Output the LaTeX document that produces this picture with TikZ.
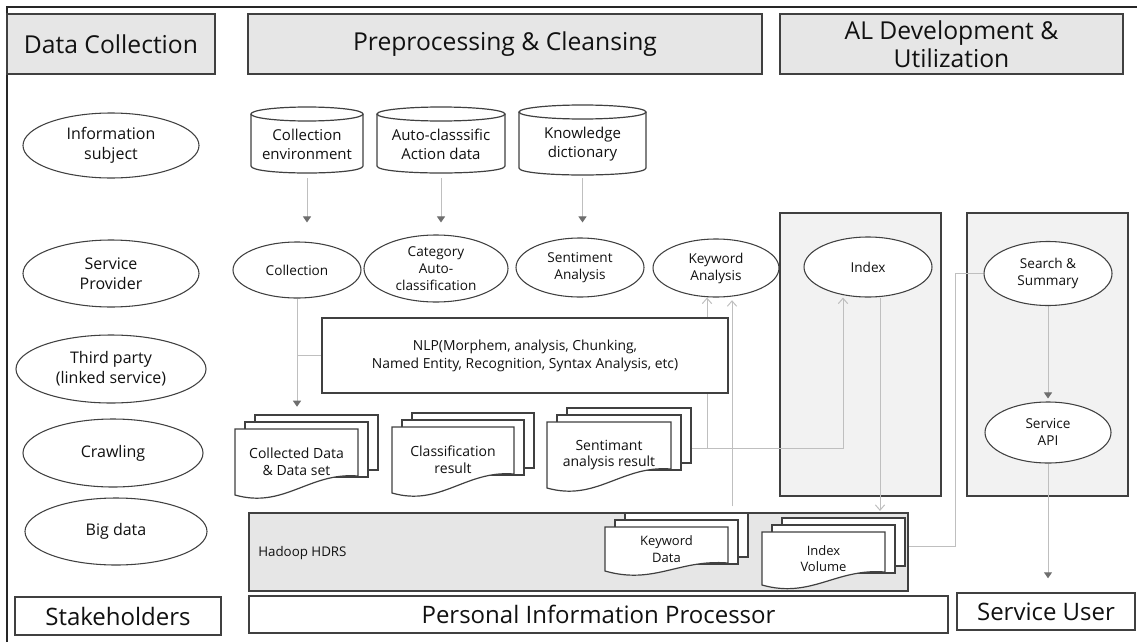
\documentclass[tikz,border=0pt]{standalone}
\usepackage{fontspec}
\setmainfont{Open Sans}
\usetikzlibrary{shapes.geometric,arrows.meta}
\pgfdeclarelayer{back}
\pgfdeclarelayer{mid}
\pgfsetlayers{back,mid,main}
\definecolor{bordc}{HTML}{404040}
\definecolor{hdrfill}{HTML}{E6E6E6}
\definecolor{panfill}{HTML}{F2F2F2}
\definecolor{connc}{HTML}{BFBFBF}
\definecolor{tipc}{HTML}{6E6E6E}
\definecolor{txtc}{HTML}{111111}
\newcommand\fs[2]{\fontsize{#1}{#2}\selectfont}
\tikzset{
  hdrbox/.style={draw=bordc, fill=hdrfill, line width=1.1pt, inner sep=0pt, align=center, font=\fs{18.5}{21}, text=txtc},
  labbox/.style={draw=bordc, fill=white, line width=1.1pt, inner sep=0pt, align=center, font=\fs{18}{21}, text=txtc},
  panel/.style={draw=bordc, fill=panfill, line width=1.1pt, inner sep=0pt},
  hdbox/.style={draw=bordc, fill=hdrfill, line width=1.1pt, inner sep=0pt},
  roleell/.style={ellipse, draw=bordc, fill=white, line width=0.8pt, inner sep=0pt, align=center, font=\fs{12}{15}, text=txtc},
  procell/.style={ellipse, draw=bordc, fill=white, line width=0.8pt, inner sep=0pt, align=center, font=\fs{10.2}{12.75}, text=txtc},
  nlpbox/.style={draw=bordc, fill=white, line width=1.1pt, inner sep=0pt, align=center, font=\fs{10.4}{13.5}, text=txtc},
  shapeline/.style={draw=bordc, fill=white, line width=0.9pt},
  cyltext/.style={inner sep=0pt, align=center, font=\fs{11.25}{14.25}, text=txtc},
  doctext/.style={inner sep=0pt, align=center, font=\fs{10.5}{12.5}, text=txtc},
  smalldoctext/.style={inner sep=0pt, align=center, font=\fs{9.75}{12.5}, text=txtc},
  conn/.style={draw=connc, line width=0.75pt},
  filltip/.style={-{Triangle[length=4.5pt,width=6pt,fill=tipc,color=tipc]}},
  opentip/.style={-{Straight Barb[length=4pt,width=7pt,color=connc]}},
}
\newcommand\bx[7]{\node[#6, minimum width={(#4-#2)*0.75pt}, minimum height={(#5-#3)*0.75pt}] (#1) at ({(#2+#4)/2},{(#3+#5)/2}) {#7};}
\newcommand\el[7]{\node[#1, minimum width={#5*0.75pt}, minimum height={#6*0.75pt}] (#2) at (#3,#4) {#7};}
\newcommand\cyl[6]{%
  \draw[shapeline] (#2,{#3+7}) -- (#2,{#5-7}) .. controls (#2,{#5+2.33}) and (#4,{#5+2.33}) .. (#4,{#5-7}) -- (#4,{#3+7});
  \draw[shapeline] ({(#2+#4)/2},{#3+7}) ellipse [x radius={(#4-#2)/2*0.75pt}, y radius=5.25pt];
  \node[cyltext, minimum height={(#5-#3-8)*0.75pt}] (#1) at ({(#2+#4)/2},{(#3+#5)/2+4}) {#6};
}
\newcommand\mdoc[8]{%
  \draw[shapeline] ({#2+20},{#3-14}) rectangle ({#2+#4+20},{#3+#6-6});
  \draw[shapeline] ({#2+10},{#3-7}) rectangle ({#2+#4+10},{#3+#6+1});
  \draw[shapeline] (#2,#3) -- (#2,{#3+#5}) .. controls ({#2+0.4*#4},{#3+#5+14}) and ({#2+0.6*#4},{#3+#6-4}) .. ({#2+#4},{#3+#6}) -- ({#2+#4},#3) -- cycle;
  \node[#7] (#1-t) at ({#2+#4/2},{#3+#5/2}) {#8};
  \node[inner sep=0pt, minimum width={(#4+20)*0.75pt}, minimum height={(#5+14)*0.75pt}] (#1) at ({#2+(#4+20)/2},{#3+(#5-14)/2}) {};
}
\begin{document}
\begin{tikzpicture}[x=0.75pt,y=-0.75pt]
\useasboundingbox (0,0) rectangle (1137,642);
\draw[line width=1.5pt, color=black!85] (7,642) -- (7,7) -- (1137,7);

% headers
\bx{hdc}{7}{14}{215}{74}{hdrbox}{Data Collection}
\bx{hpc}{248}{14}{762}{74}{hdrbox}{Preprocessing \& Cleansing}
\bx{hal}{780}{14}{1123}{74}{hdrbox}{AL Development \&\\Utilization}

% bottom labels
\bx{stk}{15}{597}{221}{635}{labbox}{Stakeholders}
\bx{pip}{249}{596}{948}{633}{labbox}{Personal Information Processor}
\bx{su}{957}{593}{1135}{630}{labbox}{Service User}

% panels
\begin{pgfonlayer}{back}
\bx{idxpan}{780}{213}{941}{496}{panel}{}
\bx{sspan}{967}{213}{1128}{496}{panel}{}
\bx{hd}{249}{513}{908}{591}{hdbox}{}
\end{pgfonlayer}
\node[anchor=west, inner sep=0pt, font=\fs{10}{12}, text=txtc] (hdl) at (258,553) {Hadoop HDRS};

% stakeholder ellipses
\el{roleell}{is}{111}{145.5}{176}{65}{Information\\subject}
\el{roleell}{sp}{111}{273.5}{176}{67}{Service\\Provider}
\el{roleell}{tp}{111}{369}{190}{68}{Third party\\(linked service)}
\el{roleell}{cr}{113}{453}{180}{68}{Crawling}
\el{roleell}{bd}{116}{531.5}{182}{67}{Big data}

% cylinders
\cyl{ce}{251}{107}{363}{173}{Collection\\environment}
\cyl{ad}{377}{107}{505}{173}{Auto-classsific\\Action data}
\cyl{kd}{519}{105}{646}{175}{Knowledge\\dictionary}

% process ellipses
\el{procell}{coll}{297}{270}{128}{56}{Collection}
\el{procell}{cat}{436}{268.5}{144}{67}{Category\\Auto-\\classification}
\el{procell}{sent}{580}{267.5}{128}{59}{Sentiment\\Analysis}
\el{procell}{kw}{716}{268}{126}{58}{Keyword\\Analysis}
\el{procell}{idx}{868}{267}{128}{60}{Index}
\el{procell}{ss}{1048}{273.5}{128}{64}{Search \&\\Summary}
\el{procell}{api}{1048}{432.5}{126}{61}{Service\\API}

% NLP
\bx{nlp}{322}{318}{728}{393}{nlpbox}{NLP(Morphem, analysis, Chunking,\\Named Entity, Recognition, Syntax Analysis, etc)}

% documents
\mdoc{cd}{235}{429}{123}{66}{47}{doctext}{Collected Data\\\& Data set}
\mdoc{clr}{392}{427}{122}{66}{47}{doctext}{Classification\\result}
\mdoc{sa}{547}{422}{124}{66}{47}{doctext}{Sentimant\\analysis result}
\mdoc{kdat}{605}{527}{123}{44}{36}{smalldoctext}{Keyword\\Data}
\mdoc{iv}{762}{532}{123}{53}{40}{smalldoctext}{Index\\Volume}

\coordinate (sjog) at (955,546);

% connectors
\begin{pgfonlayer}{mid}
\draw[conn, filltip, shorten <=3.75pt, shorten >=14.25pt] (ce.south) -- (ce.south |- coll.north);
\draw[conn, filltip, shorten <=3.75pt, shorten >=9pt] (ad.south) -- (ad.south |- cat.north);
\draw[conn, filltip, shorten <=2.25pt, shorten >=11.25pt] (kd.south) -- (kd.south |- sent.north);
\draw[conn, filltip, shorten >=6pt] (coll.south) -- (coll.south |- cd.north);
\draw[conn] (coll.south |- nlp.west) -- (nlp.west);
\draw[conn, opentip] (sa.east) -| ([xshift=-18.75pt]idx.south);
\draw[conn, opentip] ([xshift=-6.75pt]kw.south |- sa.east) -- ([xshift=-6.75pt]kw.south);
\draw[conn, opentip, shorten <=4.5pt, shorten >=2pt] ([xshift=12pt]kw.south |- hd.north) -- ([xshift=12pt]kw.south);
\draw[conn, opentip, shorten >=1pt] ([xshift=9pt]idx.south) -- ([xshift=9pt]idx.south |- hd.north);
\draw[conn] (ss.west) -| (sjog) -- (sjog -| hd.east);
\draw[conn, filltip, shorten >=2.25pt] (ss.south) -- (api.north);
\draw[conn, filltip, shorten >=10.5pt] (api.south) -- (api.south |- su.north);
\end{pgfonlayer}
\end{tikzpicture}
\end{document}
